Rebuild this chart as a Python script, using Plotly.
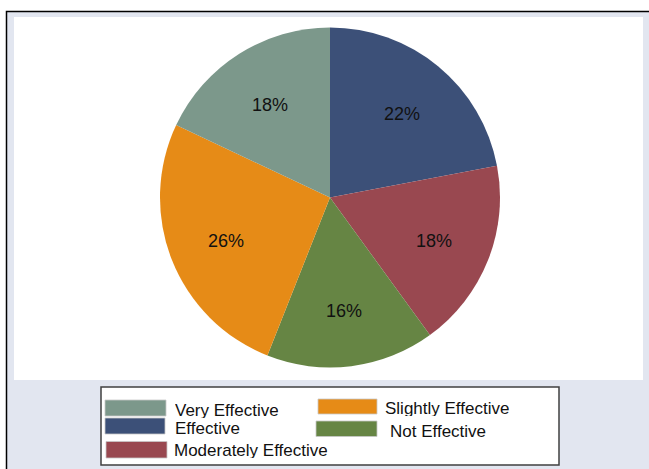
import math
import plotly.graph_objects as go

# Survey responses: share of respondents per rating (percent),
# listed clockwise from 12 o'clock
categories = ["Effective", "Moderately Effective", "Not Effective",
              "Slightly Effective", "Very Effective"]
shares = [22, 18, 16, 26, 18]
slice_colors = ["#3c5078", "#994850", "#668544", "#e68b17", "#7c988b"]

# Legend reading order (two columns, filled row by row)
legend_order = ["Very Effective", "Slightly Effective", "Effective",
                "Not Effective", "Moderately Effective"]

W, H = 649, 469
FONT = "Liberation Sans, Arial, sans-serif"


def px(x):
    return x / W


def py(y):
    return 1 - y / H


# Pie geometry in pixels
cx, cy, R = 330, 197.5, 170

fig = go.Figure()
fig.add_trace(go.Pie(
    labels=categories,
    values=shares,
    sort=False,
    direction="clockwise",
    rotation=0,
    marker=dict(colors=slice_colors, line=dict(width=0)),
    textinfo="none",
    hoverinfo="label+percent",
    showlegend=False,
    domain=dict(x=[px(cx - R), px(cx + R)], y=[py(cy + R), py(cy - R)]),
))

shapes = [
    # outer graph region with frame
    dict(type="rect", xref="paper", yref="paper", layer="below",
         x0=px(6.5), x1=px(W + 5), y0=py(H + 5), y1=py(11.5),
         fillcolor="#e2e6f0", line=dict(color="#000000", width=1.5)),
    # plot region
    dict(type="rect", xref="paper", yref="paper", layer="below",
         x0=px(14), x1=px(643), y0=py(380), y1=py(17),
         fillcolor="#ffffff", line=dict(width=0)),
    # legend box
    dict(type="rect", xref="paper", yref="paper", layer="below",
         x0=px(101), x1=px(559), y0=py(465), y1=py(387),
         fillcolor="#ffffff", line=dict(color="#404040", width=1.5)),
]

annotations = []

# Percentage labels placed on each slice's bisector at two thirds of the radius
total = sum(shares)
cum = 0.0
for val in shares:
    mid = (cum + val / 2) / total * 2 * math.pi
    cum += val
    lx = cx + 0.66 * R * math.sin(mid)
    ly = cy - 0.66 * R * math.cos(mid) + 2.5
    annotations.append(dict(
        x=px(lx), y=py(ly), xref="paper", yref="paper",
        text=f"{val / total * 100:.0f}%", showarrow=False,
        xanchor="center", yanchor="middle",
        font=dict(family=FONT, size=18, color="#111111"),
    ))

# Legend slots: key box (x0, x1, y0, y1) and text (x, y centre) in pixels
slots = [
    ((105, 166, 400, 416), (173, 409.5)),
    ((318, 377, 399, 414), (383, 408)),
    ((105, 165, 418, 434), (173, 428)),
    ((316, 377, 421, 436.5), (388, 431)),
    ((106, 167, 441.5, 458), (172, 449.5)),
]
color_of = dict(zip(categories, slice_colors))
for name, (key, txt) in zip(legend_order, slots):
    x0, x1, y0, y1 = key
    shapes.append(dict(type="rect", xref="paper", yref="paper",
                       x0=px(x0), x1=px(x1), y0=py(y1), y1=py(y0),
                       fillcolor=color_of[name],
                       line=dict(color="#c8c8c8", width=0.8)))
    annotations.append(dict(
        x=px(txt[0]), y=py(txt[1]), xref="paper", yref="paper",
        text=name, showarrow=False, xanchor="left", yanchor="middle",
        height=16, valign="middle",
        font=dict(family=FONT, size=17, color="#111111"),
    ))

fig.update_layout(
    width=W, height=H,
    margin=dict(l=0, r=0, t=0, b=0),
    paper_bgcolor="#ffffff",
    plot_bgcolor="#ffffff",
    shapes=shapes,
    annotations=annotations,
)

fig.write_html("out.html")
